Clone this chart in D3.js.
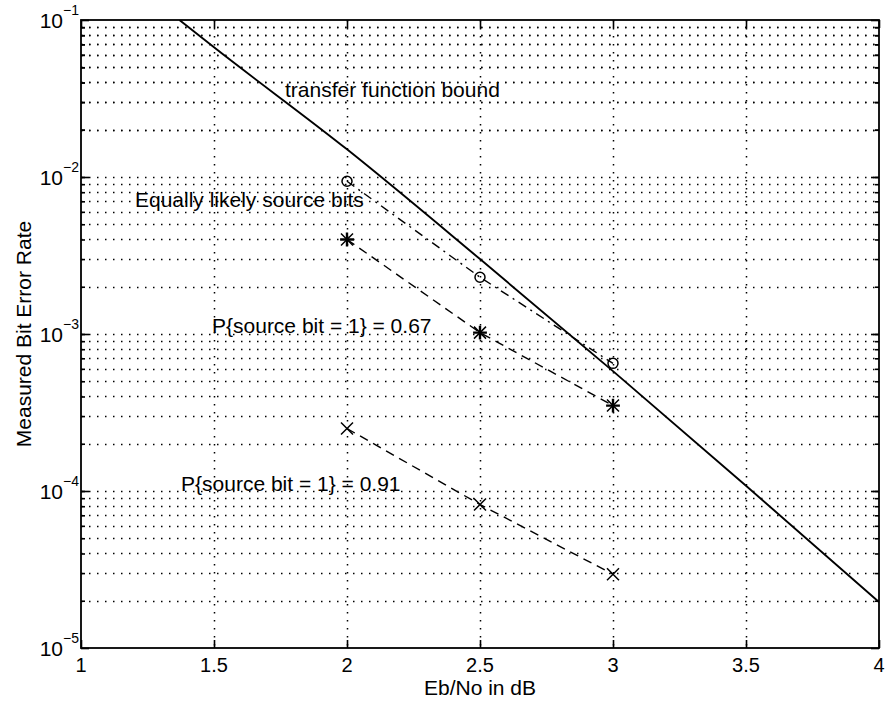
<!doctype html>
<html>
<head>
<meta charset="utf-8">
<title>BER vs Eb/No</title>
<script src="https://cdn.jsdelivr.net/npm/d3@7"></script>
<style>body{margin:0;background:#fff}</style>
</head>
<body>
<svg width="885" height="702"></svg>
<script>
// measured points
var ebno = [2, 2.5, 3]
var ber_equal = [9.4e-3, 2.3e-3, 6.5e-4]
var ber_p67 = [4.0e-3, 1.02e-3, 3.5e-4]
var ber_p91 = [2.5e-4, 8.2e-5, 2.95e-5]

// transfer function bound
var bound_ebno = [1.37, 1.5, 2, 2.5, 3, 3.5, 4]
var bound_ber = [0.1, 0.067, 0.015, 3.0e-3, 5.8e-4, 1.08e-4, 1.96e-5]

var x_ticks = [1, 1.5, 2, 2.5, 3, 3.5, 4]
var x_tick_labels = ["1", "1.5", "2", "2.5", "3", "3.5", "4"]
var y_exps = [-1, -2, -3, -4, -5]

// annotations [ebno, ber, text]
var notes = [
    [1.767, 0.0323, "transfer function bound"],
    [1.203, 6.41e-3, "Equally likely source bits"],
    [1.4925, 1.02e-3, "P{source bit = 1} = 0.67"],
    [1.376, 1.0e-4, "P{source bit = 1} = 0.91"],
]

var font = "'Liberation Sans', Arial, Helvetica, sans-serif"
var svg = d3.select("svg")
var p_left = 81, p_right = 879, p_top = 20, p_bottom = 648

var x = d3.scaleLinear().domain([1, 4]).range([p_left, p_right])
var y = d3.scaleLog().domain([1e-5, 1e-1]).range([p_bottom, p_top])

// grid values on the log axis
var y_minor = []
for (var e = -5; e < -1; e++) {
    for (var k = 1; k < 10; k++) {
        var v = k * Math.pow(10, e)
        if (v > 1e-5 && v < 1e-1) y_minor.push(v)
    }
}
for (var k = 2; k < 10; k++) y_minor.push(k * 1e-2)
var y_majors = y_exps.map(function (d) { return Math.pow(10, d) })

var grid = svg.append("g")
    .attr("stroke", "#000").attr("stroke-width", 1.5)
    .attr("stroke-dasharray", "1.5,6.5")
grid.selectAll(".hg").data(y_minor).enter().append("line")
    .attr("x1", p_left).attr("x2", p_right)
    .attr("y1", function (d) { return Math.round(y(d)) + 0.5 }).attr("y2", function (d) { return Math.round(y(d)) + 0.5 })
grid.selectAll(".vg").data(x_ticks.slice(1, -1)).enter().append("line")
    .attr("y1", p_top).attr("y2", p_bottom)
    .attr("x1", function (d) { return Math.round(x(d)) + 0.5 }).attr("x2", function (d) { return Math.round(x(d)) + 0.5 })

// ticks inside the box
function ticks(axis, tf, vals, len) {
    svg.append("g").attr("transform", tf)
        .call(axis.tickValues(vals).tickSize(len).tickFormat(""))
        .call(function (g) { g.select(".domain").remove() })
        .selectAll("line").attr("stroke", "#000").attr("stroke-width", 1.6)
}
ticks(d3.axisBottom(x), "translate(0," + p_bottom + ")", x_ticks, -8)
ticks(d3.axisTop(x), "translate(0," + p_top + ")", x_ticks, -8)
ticks(d3.axisLeft(y), "translate(" + p_left + ",0)", y_majors, -8)
ticks(d3.axisLeft(y), "translate(" + p_left + ",0)", y_minor, -4)
ticks(d3.axisRight(y), "translate(" + p_right + ",0)", y_majors, -8)
ticks(d3.axisRight(y), "translate(" + p_right + ",0)", y_minor, -4)

svg.append("rect")
    .attr("x", p_left).attr("y", p_top)
    .attr("width", p_right - p_left).attr("height", p_bottom - p_top)
    .attr("fill", "none").attr("stroke", "#000").attr("stroke-width", 1.8)

// tick labels
svg.selectAll(".xl").data(x_ticks).enter().append("text")
    .attr("x", function (d) { return x(d) }).attr("y", 672)
    .attr("text-anchor", "middle").attr("font-family", font).attr("font-size", "20px")
    .text(function (d, i) { return x_tick_labels[i] })

var yl = svg.selectAll(".yl").data(y_exps).enter().append("g")
yl.append("text")
    .attr("x", 63).attr("y", function (d) { return y(Math.pow(10, d)) + 8 })
    .attr("text-anchor", "end").attr("font-family", font).attr("font-size", "21px")
    .text("10")
yl.append("text")
    .attr("x", 63).attr("y", function (d) { return y(Math.pow(10, d)) - 5 })
    .attr("font-family", font).attr("font-size", "14px")
    .text(function (d) { return "\u2212" + (-d) })

// axis titles
svg.append("text")
    .attr("x", x(2.5)).attr("y", 695)
    .attr("text-anchor", "middle").attr("font-family", font).attr("font-size", "21px")
    .text("Eb/No in dB")
svg.append("text")
    .attr("transform", "translate(31," + (p_top + p_bottom) / 2 + ") rotate(-90)")
    .attr("text-anchor", "middle").attr("font-family", font).attr("font-size", "21px")
    .text("Measured Bit Error Rate")

// curves
svg.append("clipPath").attr("id", "plotclip").append("rect")
    .attr("x", p_left).attr("y", p_top).attr("width", p_right - p_left).attr("height", p_bottom - p_top)

var bound_line = d3.line()
    .x(function (d, i) { return x(bound_ebno[i]) })
    .y(function (d) { return y(d) })
    .curve(d3.curveMonotoneX)
svg.append("path").datum(bound_ber)
    .attr("clip-path", "url(#plotclip)")
    .attr("d", bound_line)
    .attr("fill", "none").attr("stroke", "#000").attr("stroke-width", 1.9)

var meas_line = d3.line()
    .x(function (d, i) { return x(ebno[i]) })
    .y(function (d) { return y(d) })

var series = [
    [ber_equal, "circle", "9,5,2,5"],
    [ber_p67, "star", "9,6"],
    [ber_p91, "cross", "9,6"],
]
series.forEach(function (s) {
    svg.append("path").datum(s[0])
        .attr("d", meas_line)
        .attr("fill", "none").attr("stroke", "#000").attr("stroke-width", 1.4)
        .attr("stroke-dasharray", s[2])
    var m = svg.selectAll(".m_" + s[1]).data(s[0]).enter().append("g")
        .attr("transform", function (d, i) { return "translate(" + x(ebno[i]) + "," + y(d) + ")" })
        .attr("stroke", "#000").attr("fill", "none").attr("stroke-width", 1.5)
    if (s[1] == "circle") {
        m.append("circle").attr("r", 5)
    } else {
        var r = 6
        m.append("path").attr("d", "M" + -r + "," + -r + "L" + r + "," + r + "M" + -r + "," + r + "L" + r + "," + -r)
        if (s[1] == "star") {
            m.append("path").attr("d", "M" + -r * 1.15 + ",0H" + r * 1.15 + "M0," + -r * 1.15 + "V" + r * 1.15)
                .attr("stroke-width", 2.4)
        }
    }
})

// annotations
svg.selectAll(".note").data(notes).enter().append("text")
    .attr("x", function (d) { return x(d[0]) }).attr("y", function (d) { return y(d[1]) })
    .attr("font-family", font).attr("font-size", "21px")
    .text(function (d) { return d[2] })
</script>
</body>
</html>
